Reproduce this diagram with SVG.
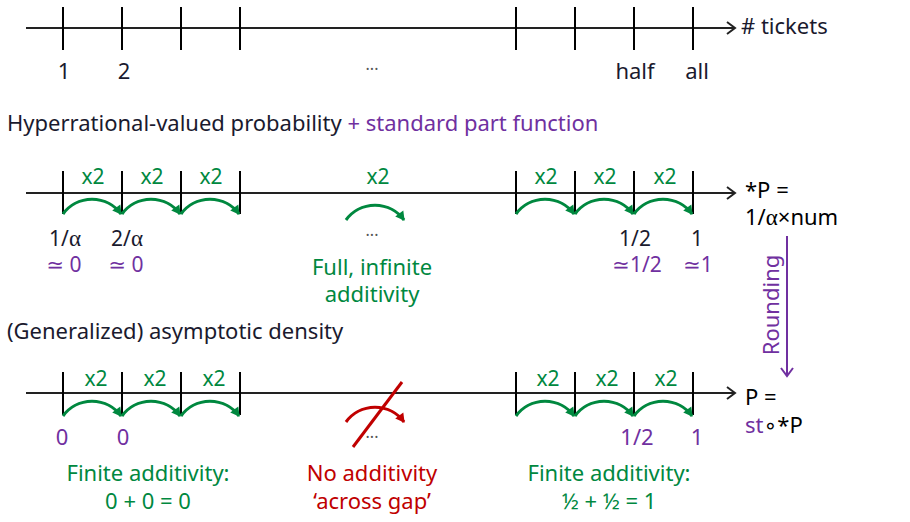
<svg xmlns="http://www.w3.org/2000/svg" width="910" height="522" viewBox="0 0 910 522">
<style>
text{font-family:"Noto Sans","DejaVu Sans",sans-serif;font-size:22px;fill:#1a1a2e}
.g{fill:#00883f}
.p{fill:#7030a0}
.r{fill:#c00000}
.k{fill:#000}
.m{text-anchor:middle}
.al{font-family:"Liberation Serif",serif;font-size:23px}
.sm{font-size:21px}
.dots{font-size:16px;fill:#555}
.axis{stroke:#222;stroke-width:2;fill:none}
.tick{stroke:#000;stroke-width:2}
.arc{stroke:#00883f;stroke-width:3;fill:none}
.x2{font-size:21px;fill:#00883f;text-anchor:middle}
</style>
<defs>
<marker id="ax" markerWidth="14" markerHeight="14" refX="11" refY="7" orient="auto" markerUnits="userSpaceOnUse">
<path d="M3,1 L11,7 L3,13" fill="none" stroke="#222" stroke-width="2"/>
</marker>
<marker id="ga" markerWidth="12" markerHeight="12" refX="9" refY="6" orient="auto" markerUnits="userSpaceOnUse">
<path d="M1,1 L10,6 L1,11 Z" fill="#00883f"/>
</marker>
<marker id="ra" markerWidth="12" markerHeight="12" refX="9" refY="6" orient="auto" markerUnits="userSpaceOnUse">
<path d="M1,1 L10,6 L1,11 Z" fill="#c00000"/>
</marker>
<marker id="pa" markerWidth="16" markerHeight="16" refX="8" refY="13" orient="0" markerUnits="userSpaceOnUse">
<path d="M2,5 L8,13 L14,5" fill="none" stroke="#7030a0" stroke-width="2"/>
</marker>
</defs>

<g id="connectors">
<line class="axis" x1="26" y1="28" x2="735" y2="28" marker-end="url(#ax)"/>
<line class="axis" x1="26" y1="193" x2="735" y2="193" marker-end="url(#ax)"/>
<line class="axis" x1="26" y1="393" x2="735" y2="393" marker-end="url(#ax)"/>
<g id="ticks">
<path class="tick" d="M63,7V50M122,7V50M181,7V50M240,7V50M516,7V50M575,7V50M634,7V50M693,7V50"/>
<path class="tick" d="M63,171V214M122,171V214M181,171V214M240,171V214M516,171V214M575,171V214M634,171V214M693,171V214"/>
<path class="tick" d="M63,372V415M122,372V415M181,372V415M240,372V415M516,372V415M575,372V415M634,372V415M693,372V415"/>
</g>
<g id="arcs-mid">
<path class="arc" d="M63,214 A36,36 0 0 1 121,214" marker-end="url(#ga)"/>
<path class="arc" d="M122,214 A36,36 0 0 1 180,214" marker-end="url(#ga)"/>
<path class="arc" d="M181,214 A36,36 0 0 1 239,214" marker-end="url(#ga)"/>
<path class="arc" d="M346,220 A36,36 0 0 1 404,220" marker-end="url(#ga)"/>
<path class="arc" d="M516,214 A36,36 0 0 1 574,214" marker-end="url(#ga)"/>
<path class="arc" d="M575,214 A36,36 0 0 1 633,214" marker-end="url(#ga)"/>
<path class="arc" d="M634,214 A36,36 0 0 1 692,214" marker-end="url(#ga)"/>
</g>
<g id="arcs-bottom">
<path class="arc" d="M63,416 A36,36 0 0 1 121,416" marker-end="url(#ga)"/>
<path class="arc" d="M122,416 A36,36 0 0 1 180,416" marker-end="url(#ga)"/>
<path class="arc" d="M181,416 A36,36 0 0 1 239,416" marker-end="url(#ga)"/>
<path d="M346,422 A36,36 0 0 1 404,422" fill="none" stroke="#c00000" stroke-width="3" marker-end="url(#ra)"/>
<line x1="353" y1="447" x2="402" y2="382" stroke="#c00000" stroke-width="3"/>
<path class="arc" d="M516,416 A36,36 0 0 1 574,416" marker-end="url(#ga)"/>
<path class="arc" d="M575,416 A36,36 0 0 1 633,416" marker-end="url(#ga)"/>
<path class="arc" d="M634,416 A36,36 0 0 1 692,416" marker-end="url(#ga)"/>
</g>
<line id="rounding-arrow" x1="787" y1="236" x2="787" y2="376" stroke="#7030a0" stroke-width="2" marker-end="url(#pa)"/>
</g>

<g id="top-axis">
<text class="m" x="64" y="79">1</text>
<text class="m" x="124" y="79">2</text>
<text class="m dots" x="372" y="70">...</text>
<text class="m" x="635" y="79">half</text>
<text class="m" x="697" y="79">all</text>
<text x="741" y="34">#&#160;tickets</text>
</g>

<text id="title1" x="7" y="131">Hyperrational-valued probability <tspan class="p">+ standard part function</tspan></text>

<g id="mid-axis">
<text class="x2" x="93" y="184">x2</text>
<text class="x2" x="152" y="184">x2</text>
<text class="x2" x="211" y="184">x2</text>
<text class="x2" x="378" y="184">x2</text>
<text class="x2" x="546" y="184">x2</text>
<text class="x2" x="605" y="184">x2</text>
<text class="x2" x="665" y="184">x2</text>
<text class="m sm" x="65" y="246">1/<tspan class="al">α</tspan></text>
<text class="m sm" x="127" y="246">2/<tspan class="al">α</tspan></text>
<text class="m p sm" x="64" y="272">≃ 0</text>
<text class="m p sm" x="126" y="272">≃ 0</text>
<text class="m dots" x="372" y="236">...</text>
<text class="m g" x="372" y="275">Full, infinite</text>
<text class="m g" x="372" y="302">additivity</text>
<text class="m sm" x="635" y="246">1/2</text>
<text class="m sm" x="697" y="246">1</text>
<text class="m p sm" x="637" y="272">≃1/2</text>
<text class="m p sm" x="698" y="272">≃1</text>
<text class="k" x="745" y="198">*P =</text>
<text class="k" x="745" y="225">1/<tspan class="al">α</tspan>×num</text>
<text class="p m" transform="translate(779,305) rotate(-90)">Rounding</text>
</g>

<text id="title2" x="7" y="339">(Generalized) asymptotic density</text>

<g id="bottom-axis">
<text class="x2" x="96" y="386">x2</text>
<text class="x2" x="155" y="386">x2</text>
<text class="x2" x="214" y="386">x2</text>
<text class="x2" x="548" y="386">x2</text>
<text class="x2" x="607" y="386">x2</text>
<text class="x2" x="666" y="386">x2</text>
<text class="m dots" x="372" y="438">...</text>
<text class="m p" x="62" y="445">0</text>
<text class="m p" x="123" y="445">0</text>
<text class="m p" x="637" y="445">1/2</text>
<text class="m p" x="697" y="445">1</text>
<text class="k" x="745" y="405">P =</text>
<text x="745" y="433"><tspan class="p">st</tspan><tspan class="k">∘*P</tspan></text>
<text class="m g" x="148" y="481">Finite additivity:</text>
<text class="m g" x="148" y="509">0 + 0 = 0</text>
<text class="m r" x="372" y="481">No additivity</text>
<text class="m r" x="372" y="509">‘across gap’</text>
<text class="m g" x="609" y="481">Finite additivity:</text>
<text class="m g" x="609" y="509">½ + ½ = 1</text>
</g>
</svg>
